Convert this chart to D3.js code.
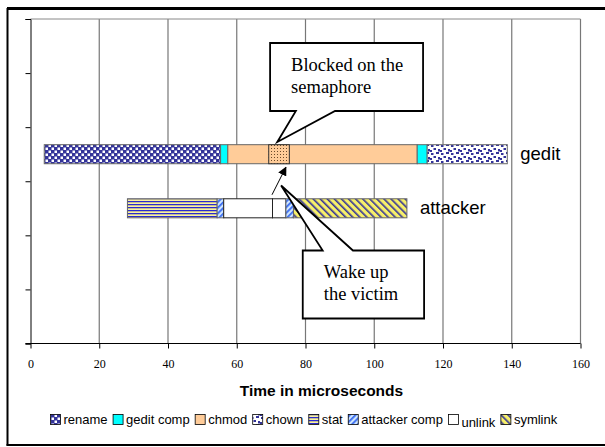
<!DOCTYPE html>
<html lang="en">
<head>
<meta charset="UTF-8">
<title>gedit vs attacker timeline</title>
<script src="https://d3js.org/d3.v7.min.js"></script>
<style>
  body { margin: 0; background: #fff; }
  svg { display: block; }
</style>
</head>
<body>
<div id="chart"></div>
<script>
// ---- data ----
const rowNames = ["", "", "gedit", "attacker", "", ""];
const xTicks = [0, 20, 40, 60, 80, 100, 120, 140, 160];

const geditStart = 4;
const geditTypes = ["rename", "gedit comp", "chmod", "gedit comp", "chown"];
const geditDurations = [51.3, 2.1, 55.1, 2.9, 23.3];

const attackerStart = 28.2;
const attackerTypes = ["stat", "attacker comp", "unlink", "unlink", "attacker comp", "symlink"];
const attackerDurations = [26.1, 1.9, 14.2, 3.9, 2.2, 33];

// stretch of chmod where gedit waits on the semaphore
const blockedSpan = [69.3, 75.3];

const legendNames = ["rename", "gedit comp", "chmod", "chown", "stat", "attacker comp", "unlink", "symlink"];

const width = 605, height = 447;
const svg = d3.select("#chart").append("svg")
  .attr("width", width).attr("height", height);

svg.append("rect").attr("width", width).attr("height", height).attr("fill", "#fff");

// ---- fill patterns ----
const defs = svg.append("defs");
const navy = "#333399";

function pattern(id, w, h, extra) {
  const p = defs.append("pattern").attr("id", id)
    .attr("patternUnits", "userSpaceOnUse").attr("width", w).attr("height", h);
  if (extra) p.attr("patternTransform", extra);
  return p;
}

let p = pattern("p-rename", 6, 6);
p.append("rect").attr("width", 6).attr("height", 6).attr("fill", navy);
p.append("rect").attr("x", 0.5).attr("y", 0.5).attr("width", 2.5).attr("height", 2.5).attr("fill", "#fff");
p.append("rect").attr("x", 3.5).attr("y", 3.5).attr("width", 2.5).attr("height", 2.5).attr("fill", "#fff");

p = pattern("p-chown", 10, 8);
p.append("rect").attr("width", 10).attr("height", 8).attr("fill", "#fff");
[[1, 1, 2.5, 2], [6, 0, 3, 2], [3.5, 4, 2.5, 2], [8, 5, 2, 2.5], [0, 6, 2, 2]].forEach(r => {
  p.append("rect").attr("x", r[0]).attr("y", r[1]).attr("width", r[2]).attr("height", r[3]).attr("fill", navy);
});

p = pattern("p-stat", 4, 3);
p.append("rect").attr("width", 4).attr("height", 3).attr("fill", "#fff");
p.append("rect").attr("width", 4).attr("height", 1.5).attr("fill", "#2a2ad0");
p.append("rect").attr("y", 1.5).attr("width", 4).attr("height", 1).attr("fill", "#f2e64a");

p = pattern("p-acomp", 4, 4, "rotate(45)");
p.append("rect").attr("width", 4).attr("height", 4).attr("fill", "#cfe6ff");
p.append("rect").attr("width", 1.8).attr("height", 4).attr("fill", "#3a6cf0");

p = pattern("p-symlink", 5, 5, "rotate(-45)");
p.append("rect").attr("width", 5).attr("height", 5).attr("fill", "#f7f06a");
p.append("rect").attr("width", 1.6).attr("height", 5).attr("fill", navy);

p = pattern("p-blocked", 3, 3);
p.append("rect").attr("width", 3).attr("height", 3).attr("fill", "#ffcc99");
p.append("rect").attr("x", 1).attr("y", 1).attr("width", 1).attr("height", 1).attr("fill", "#6b4a2a");

const fills = {
  "rename": "url(#p-rename)",
  "gedit comp": "#00ffff",
  "chmod": "#ffcc99",
  "chown": "url(#p-chown)",
  "stat": "url(#p-stat)",
  "attacker comp": "url(#p-acomp)",
  "unlink": "#ffffff",
  "symlink": "url(#p-symlink)"
};

// ---- outer frame ----
svg.append("line").attr("x1", 7).attr("x2", width).attr("y1", 8.5).attr("y2", 8.5)
  .attr("stroke", "#000").attr("stroke-width", 3);
svg.append("line").attr("x1", 7.5).attr("x2", 7.5).attr("y1", 8).attr("y2", 445.5)
  .attr("stroke", "#000").attr("stroke-width", 2);
svg.append("line").attr("x1", 6.5).attr("x2", width).attr("y1", 445).attr("y2", 445)
  .attr("stroke", "#000").attr("stroke-width", 2);

// ---- scales ----
const plotTop = 19, plotBottom = 343.5;
const x = d3.scaleLinear().domain([0, 160]).range([30.5, 580.5]);
const y = d3.scaleBand().domain(d3.range(rowNames.length)).range([plotTop, plotBottom])
  .paddingInner(0.648).paddingOuter(0.324);
const yEdge = d3.scaleLinear().domain([0, rowNames.length]).range([plotTop, plotBottom]);

// gridlines and plot top
svg.append("g").selectAll("line").data(xTicks.slice(1)).join("line")
  .attr("x1", d => x(d)).attr("x2", d => x(d))
  .attr("y1", plotTop).attr("y2", plotBottom)
  .attr("stroke", "#777").attr("stroke-width", 1.2);
svg.append("line").attr("x1", x(0)).attr("x2", x(160)).attr("y1", plotTop).attr("y2", plotTop)
  .attr("stroke", "#888").attr("stroke-width", 1);

// y axis (band edges only)
const yAxis = svg.append("g").attr("transform", `translate(${x(0)},0)`)
  .call(d3.axisLeft(yEdge).ticks(rowNames.length).tickSize(5).tickFormat(""));
yAxis.select(".domain").attr("stroke", "#000");

// x axis
const serif = "'Liberation Serif', 'Times New Roman', serif";
const xAxis = svg.append("g").attr("transform", `translate(0,${plotBottom})`)
  .call(d3.axisBottom(x).tickValues(xTicks).tickSize(5).tickPadding(10.5).tickSizeOuter(5));
xAxis.attr("font-family", serif).attr("font-size", 12);
xAxis.select(".domain").attr("d", `M${x(0) - 5},0H${x(160)}`);
xAxis.selectAll("text").attr("fill", "#000");

svg.append("text").attr("x", 321.5).attr("y", 396)
  .attr("text-anchor", "middle")
  .attr("font-family", "'Liberation Sans', Arial, sans-serif")
  .attr("font-weight", "bold").attr("font-size", 15.5)
  .text("Time in microseconds");

// ---- bars ----
function segments(start, types, durations) {
  let acc = start;
  return types.map((t, i) => {
    const s = { type: t, x0: acc, x1: acc + durations[i] };
    acc += durations[i];
    return s;
  });
}
const rows = [
  { row: rowNames.indexOf("gedit"), segs: segments(geditStart, geditTypes, geditDurations) },
  { row: rowNames.indexOf("attacker"), segs: segments(attackerStart, attackerTypes, attackerDurations) }
];

const barG = svg.append("g");
rows.forEach(r => {
  barG.append("g").selectAll("rect").data(r.segs).join("rect")
    .attr("x", d => x(d.x0)).attr("width", d => x(d.x1) - x(d.x0))
    .attr("y", y(r.row)).attr("height", y.bandwidth())
    .attr("fill", d => fills[d.type])
    .attr("stroke", d => d.type === "unlink" ? "#222" : "#666").attr("stroke-width", 1);
  const end = r.segs[r.segs.length - 1].x1;
  barG.append("text")
    .attr("x", x(end) + 13).attr("y", y(r.row) + y.bandwidth() / 2 + 6)
    .attr("font-family", "'Liberation Sans', Arial, sans-serif").attr("font-size", 18.5)
    .text(rowNames[r.row]);
});

const geditRow = rowNames.indexOf("gedit");
const attackerRow = rowNames.indexOf("attacker");
barG.append("rect")
  .attr("x", x(blockedSpan[0])).attr("width", x(blockedSpan[1]) - x(blockedSpan[0]))
  .attr("y", y(geditRow)).attr("height", y.bandwidth())
  .attr("fill", "url(#p-blocked)").attr("stroke", "#333").attr("stroke-width", 1);

// ---- wake-up arrow ----
defs.append("marker").attr("id", "arrow").attr("viewBox", "0 0 10 10")
  .attr("refX", 9).attr("refY", 5).attr("markerWidth", 9).attr("markerHeight", 9)
  .attr("markerUnits", "userSpaceOnUse").attr("orient", "auto")
  .append("path").attr("d", "M0,0L10,5L0,10Z").attr("fill", "#000");
svg.append("line")
  .attr("x1", x(70.25)).attr("y1", y(attackerRow) - 4)
  .attr("x2", x(74.3)).attr("y2", y(geditRow) + y.bandwidth() + 3.5)
  .attr("stroke", "#000").attr("stroke-width", 1).attr("marker-end", "url(#arrow)");

// ---- callouts ----
function callout(bx0, bx1, top, bottom, baseA, baseB, tipX, tipY, onTop, lines) {
  const L = x(bx0), R = x(bx1);
  const path = onTop
    ? `M${L},${top}H${x(baseA)}L${x(tipX)},${tipY}L${x(baseB)},${top}H${R}V${bottom}H${L}Z`
    : `M${L},${top}H${R}V${bottom}H${x(baseB)}L${x(tipX)},${tipY}L${x(baseA)},${bottom}H${L}Z`;
  svg.append("path").attr("d", path).attr("fill", "#fff")
    .attr("stroke", "#000").attr("stroke-width", 1.8).attr("stroke-linejoin", "miter");
  lines.forEach((t, i) => {
    svg.append("text").attr("x", L + 21).attr("y", top + 27.5 + i * 22)
      .attr("font-family", serif).attr("font-size", 18.5).text(t);
  });
}
callout(69.7, 114.2, 43, 111, 77.2, 88.6, 71.8, 142, false, ["Blocked on the", "semaphore"]);
callout(79.2, 114.5, 250.5, 318.5, 85, 93.8, 72.9, 185.5, true, ["Wake up", "the victim"]);

// ---- legend ----
const legend = svg.append("g").attr("font-family", "'Liberation Sans', Arial, sans-serif").attr("font-size", 13);
let lx = 50;
legendNames.forEach(name => {
  legend.append("rect").attr("x", lx + 0.5).attr("y", 414.5).attr("width", 10).attr("height", 10)
    .attr("fill", fills[name]).attr("stroke", "#000").attr("stroke-width", 0.8);
  const t = legend.append("text").attr("x", lx + 13.5)
    .attr("y", name === "unlink" ? 427 : 423.5).text(name);
  lx += 13.5 + t.node().getComputedTextLength() + 5;
});
</script>
</body>
</html>
